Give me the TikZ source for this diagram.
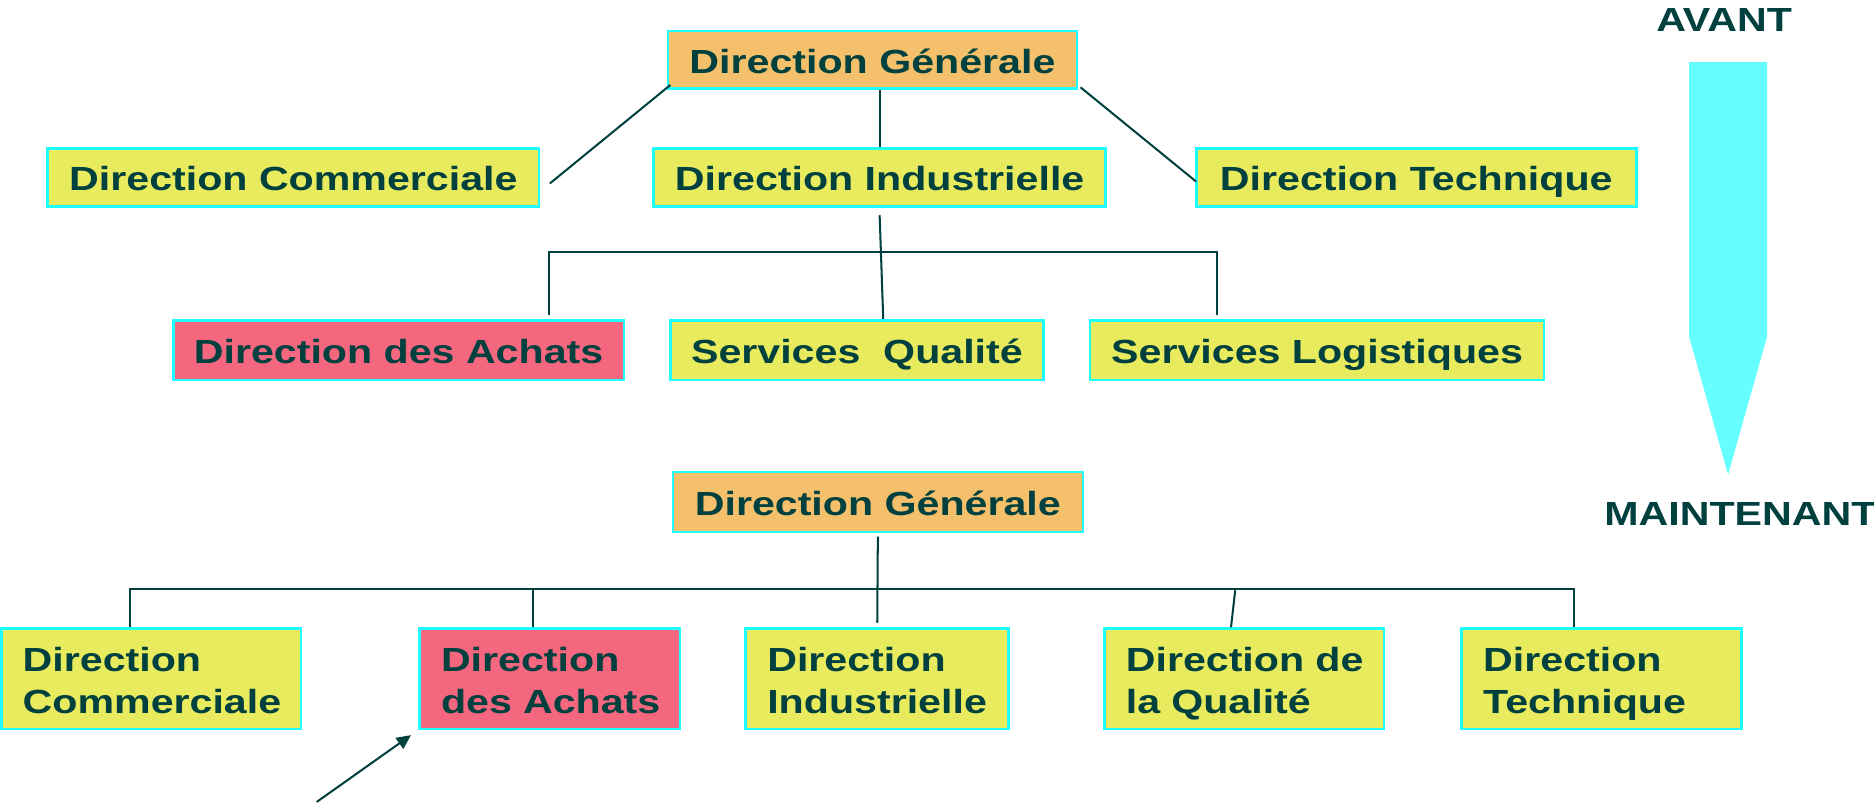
\documentclass[tikz,border=0pt]{standalone}
\usepackage{fontspec}
\setmainfont{Liberation Sans}[FakeStretch=1.23]
\usetikzlibrary{arrows.meta}
\definecolor{txt}{RGB}{0,64,62}
\definecolor{ylw}{RGB}{233,235,94}
\definecolor{org}{RGB}{245,192,107}
\definecolor{pnk}{RGB}{245,103,127}
\definecolor{bcy}{RGB}{30,255,255}
\definecolor{acy}{RGB}{102,255,255}
\begin{document}
\begin{tikzpicture}[x=0.5pt,y=-0.5pt,
  font=\fontsize{14pt}{17.75pt}\selectfont\bfseries, text=txt,
  box/.style={draw=bcy, line width=1.1pt, inner sep=0pt},
  topbox/.style={box, align=center, text height=11.2pt, text depth=0pt},
  lowbox/.style={box, align=left, inner xsep=9pt, minimum height=42pt,
                 text height=11.2pt, text depth=17.75pt},
  conn/.style={draw=txt, line width=0.85pt},
  lbl/.style={inner sep=0pt, anchor=base west}]
\useasboundingbox (0,0) rectangle (1568,677.8);

% ---- AVANT ----
\node[topbox, fill=org, minimum width=171pt, minimum height=24pt] (dg) at (730,50) {Direction Générale};
\node[topbox, fill=ylw, minimum width=205.5pt, minimum height=24.5pt] (dc) at (245.5,148.5) {Direction Commerciale};
\node[topbox, fill=ylw, minimum width=189pt, minimum height=24.5pt] (di) at (736,148.5) {Direction Industrielle};
\node[topbox, fill=ylw, minimum width=184pt, minimum height=24.5pt] (dt) at (1185,148.5) {Direction Technique};
\node[topbox, fill=pnk, minimum width=188.5pt, minimum height=25pt] (da) at (333.5,293) {Direction des Achats};
\node[topbox, fill=ylw, minimum width=156pt, minimum height=25pt] (sq) at (717,293) {Services\ \ Qualité};
\node[topbox, fill=ylw, minimum width=190pt, minimum height=25pt] (sl) at (1102,293) {Services Logistiques};

\draw[conn] ([shift={(3,-4)}]dg.south west) -- ([shift={(8,5)}]dc.east);
\draw[conn] (di.north) -- (di.north |- dg.south);
\draw[conn] ([shift={(2,-2)}]dg.south east) -- ([shift={(1,3.5)}]dt.west);
\draw[conn] ([yshift=-3pt]di.south) -- ([xshift=11pt]sq.north);
\coordinate (ba) at ([shift={(125.5,-3)}]da.north);
\coordinate (bl) at ([shift={(-84,-3)}]sl.north);
\draw[conn] (ba) -- ++(0,-53) -| (bl);

% ---- MAINTENANT ----
\node[topbox, fill=org, minimum width=171.5pt, minimum height=25pt] (dg2) at (734.5,420) {Direction Générale};
\node[lowbox, fill=ylw, minimum width=125.5pt, text width=107.5pt] (dc2) at (126.5,568) {\mbox{Direction}\\\mbox{Commerciale}};
\node[lowbox, fill=pnk, minimum width=109pt, text width=91pt] (da2) at (460,568) {\mbox{Direction}\\\mbox{des Achats}};
\node[lowbox, fill=ylw, minimum width=110pt, text width=92pt] (di2) at (734,568) {\mbox{Direction}\\\mbox{Industrielle}};
\node[lowbox, fill=ylw, minimum width=117pt, text width=99pt] (dq) at (1041,568) {\mbox{Direction de}\\\mbox{la Qualité}};
\node[lowbox, fill=ylw, minimum width=117pt, text width=99pt] (dt2) at (1340,568) {\mbox{Direction}\\\mbox{Technique}};

\draw[conn] ([yshift=-1.5pt]dg2.south) -- ([yshift=2pt]di2.north);
\draw[conn] ([xshift=-9pt]dc2.north) -- ++(0,-32) -| ([xshift=-11.5pt]dt2.north);
\draw[conn] ([xshift=-7pt]da2.north) -- ++(0,-32);
\draw[conn] ([xshift=-5.5pt]dq.north) -- ++(3.5,-31);
\coordinate (tail) at (265,671);
\draw[conn, -{Triangle[length=6pt,width=5.5pt]}] (tail) -- ([shift={(-6,4)}]da2.south west);

% ---- time arrow ----
\fill[acy] (1413.3,51.9) -- (1478.5,51.9) -- (1478.5,281.8) -- (1445.9,397.1) -- (1413.3,281.8) -- cycle;
\node[lbl] (avant) at (1385.4,26.5) {AVANT};
\node[lbl] (maint) at (1342,439.4) {MAINTENANT};
\end{tikzpicture}
\end{document}
